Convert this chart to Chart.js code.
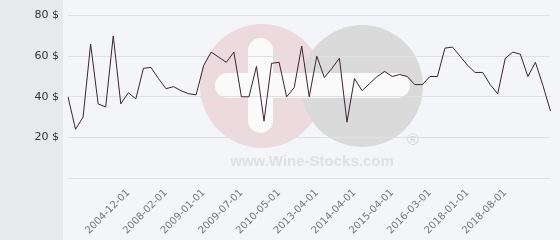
<!DOCTYPE html>
<html>
<head>
<meta charset="utf-8">
<script src="https://cdn.jsdelivr.net/npm/chart.js@4/dist/chart.umd.min.js"></script>
<style>
  html, body { margin: 0; padding: 0; background: #f4f5f9; }
  #wrap { width: 560px; height: 240px; position: relative; }
</style>
</head>
<body>
<div id="wrap"><canvas id="priceChart"></canvas></div>
<script>
const prices = [
  40, 24, 30, 66, 36.5, 35, 70, 36.5, 42, 39,
  54, 54.5, 49, 44, 45, 43, 41.5, 41, 55.5, 62,
  59.5, 57, 62, 40, 40, 55, 28, 56.5, 57, 40,
  44.5, 65, 40, 60, 49.5, 54, 59, 27.5, 49, 43,
  46.5, 50, 52.5, 50, 51, 50, 46, 46, 50, 50,
  64, 64.5, 60, 55.5, 52, 52, 46, 41.5, 59, 62,
  61, 50, 57, 45.5, 33
];

// Dates affichées sous l'axe (index du point -> libellé)
const tickIndexes = [8, 13, 18, 23, 28, 33, 38, 43, 48, 53, 58];
const tickDates = [
  '2004-12-01', '2008-02-01', '2009-01-01', '2009-07-01', '2010-05-01',
  '2013-04-01', '2014-04-01', '2015-04-01', '2016-03-01', '2018-01-01', '2018-08-01'
];

const yTicks = [20, 40, 60, 80];

const labels = prices.map((_, i) => {
  const k = tickIndexes.indexOf(i);
  return k >= 0 ? tickDates[k] : '';
});

const LINE_COLOR = '#3b2330';
const GRID_COLOR = '#dfe0e6';

// fond gris à gauche + logo en filigrane
const backdrop = {
  id: 'backdrop',
  beforeDraw(chart) {
    const { ctx, width, height } = chart;
    ctx.save();
    ctx.fillStyle = '#f4f5f9';
    ctx.fillRect(0, 0, width, height);
    ctx.fillStyle = '#e7eaed';
    ctx.fillRect(0, 0, 63, height);

    ctx.fillStyle = '#eddade';
    ctx.beginPath();
    ctx.arc(262, 86, 62, 0, Math.PI * 2);
    ctx.fill();
    ctx.fillStyle = '#dadadb';
    ctx.beginPath();
    ctx.arc(362, 86, 61, 0, Math.PI * 2);
    ctx.fill();

    ctx.fillStyle = '#fafafb';
    ctx.beginPath();
    ctx.roundRect(215, 73, 195, 25, 12.5);
    ctx.fill();
    ctx.beginPath();
    ctx.roundRect(248, 38, 25, 95, 12.5);
    ctx.fill();

    ctx.fillStyle = '#e0e0e2';
    ctx.font = 'bold 15px "Liberation Sans", Arial, sans-serif';
    ctx.textAlign = 'center';
    ctx.textBaseline = 'middle';
    ctx.fillText('www.Wine-Stocks.com', 312, 162);
    ctx.fillStyle = '#d4d4d6';
    ctx.font = '16px "Liberation Sans", Arial, sans-serif';
    ctx.fillText('\u00AE', 413, 141);
    ctx.restore();
  }
};

const ctx = document.getElementById('priceChart').getContext('2d');
new Chart(ctx, {
  type: 'line',
  data: {
    labels,
    datasets: [{
      data: prices,
      borderColor: LINE_COLOR,
      borderWidth: 1,
      pointRadius: 0,
      tension: 0,
      fill: false,
    }],
  },
  options: {
    responsive: true,
    maintainAspectRatio: false,
    animation: false,
    layout: { padding: { top: 15, right: 5, left: 0, bottom: 0 } },
    plugins: { legend: { display: false }, tooltip: { enabled: false } },
    scales: {
      x: {
        offset: false,
        grid: { display: false },
        border: { display: false },
        afterFit: (scale) => { scale.height = 62; },
        ticks: {
          autoSkip: false,
          minRotation: 45,
          maxRotation: 45,
          padding: 1,
          color: '#777',
          font: { family: 'DejaVu Sans', size: 10 },
        },
      },
      y: {
        min: 0,
        max: 80,
        afterFit: (scale) => { scale.width = 68; },
        afterBuildTicks: (scale) => {
          scale.ticks = [0, ...yTicks].map((v) => ({ value: v }));
        },
        grid: { color: GRID_COLOR, drawTicks: false },
        border: { display: false },
        ticks: {
          padding: 9,
          color: '#333',
          font: { family: 'DejaVu Sans', size: 11 },
          callback: (v) => (v === 0 ? '' : v + ' $'),
        },
      },
    },
  },
  plugins: [backdrop],
});
</script>
</body>
</html>
